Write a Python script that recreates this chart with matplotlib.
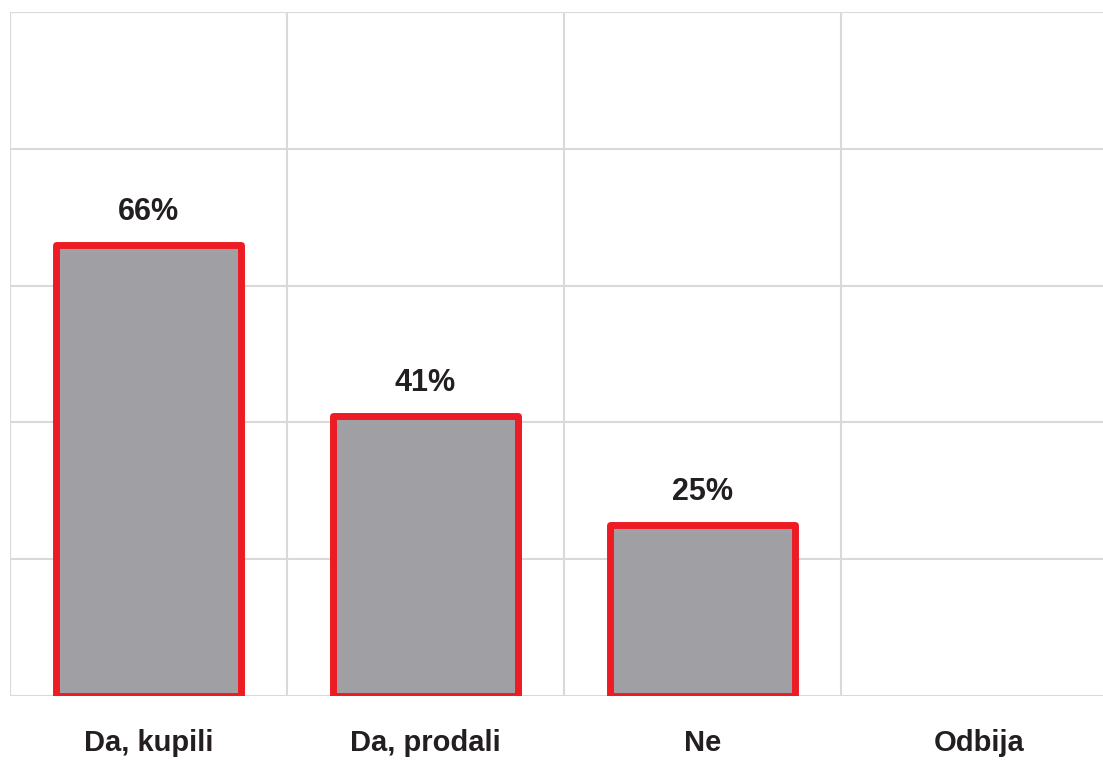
import numpy as np
import matplotlib.pyplot as plt

# Survey answers and shares (%)
categories = ['Da, kupili', 'Da, prodali', 'Ne', 'Odbija']
shares = [66, 41, 25, np.nan]

plt.rcParams['font.family'] = ['Liberation Sans', 'DejaVu Sans']

fig = plt.figure(figsize=(11.03, 7.6), dpi=100)
# axes run slightly past the right edge, like a cropped export
ax = fig.add_axes([10 / 1103, 64 / 760, 1108 / 1103, 684 / 760])

x = np.arange(len(categories))
vals = np.nan_to_num(shares)
bars = ax.bar(x, vals, width=0.67, color='#a09fa4', edgecolor='#ed1c24',
              linewidth=5, joinstyle='round', zorder=3)
for b, v in zip(bars, shares):
    if np.isnan(v):
        b.set_visible(False)
        continue
    ax.annotate(f'{v:.0f}%', (b.get_x() + b.get_width() / 2, v),
                xytext=(0, 13), textcoords='offset points',
                ha='center', va='bottom', fontsize=22, fontweight='bold',
                color='#231f20')

ax.set_xlim(-0.5, len(categories) - 0.5)
ax.set_ylim(0, 100)
ax.set_yticks(np.arange(0, 101, 20))
ax.set_xticks(np.arange(-0.5, len(categories), 1), minor=False)
ax.set_xticklabels([])
ax.set_xticks(x, minor=True)
ax.set_xticklabels(categories, minor=True, fontsize=21, fontweight='bold',
                   color='#231f20')
ax.tick_params(axis='x', which='both', length=0, pad=24)
ax.tick_params(axis='y', length=0, labelleft=False)
ax.grid(True, which='major', color='#d9d9d9', linewidth=1.5, zorder=0)
for s in ax.spines.values():
    s.set_visible(False)

fig.savefig('out.png', dpi=100)
